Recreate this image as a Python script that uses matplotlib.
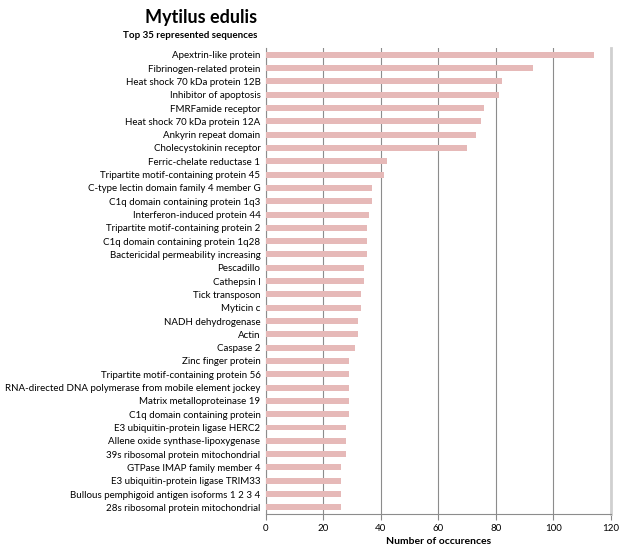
import matplotlib.pyplot as plt
import numpy as np

plt.rcParams['font.family'] = ['Lato', 'DejaVu Sans']

labels = [
    "Apextrin-like protein",
    "Fibrinogen-related protein",
    "Heat shock 70 kDa protein 12B",
    "Inhibitor of apoptosis",
    "FMRFamide receptor",
    "Heat shock 70 kDa protein 12A",
    "Ankyrin repeat domain",
    "Cholecystokinin receptor",
    "Ferric-chelate reductase 1",
    "Tripartite motif-containing protein 45",
    "C-type lectin domain family 4 member G",
    "C1q domain containing protein 1q3",
    "Interferon-induced protein 44",
    "Tripartite motif-containing protein 2",
    "C1q domain containing protein 1q28",
    "Bactericidal permeability increasing",
    "Pescadillo",
    "Cathepsin l",
    "Tick transposon",
    "Myticin c",
    "NADH dehydrogenase",
    "Actin",
    "Caspase 2",
    "Zinc finger protein",
    "Tripartite motif-containing protein 56",
    "RNA-directed DNA polymerase from mobile element jockey",
    "Matrix metalloproteinase 19",
    "C1q domain containing protein",
    "E3 ubiquitin-protein ligase HERC2",
    "Allene oxide synthase-lipoxygenase",
    "39s ribosomal protein mitochondrial",
    "GTPase IMAP family member 4",
    "E3 ubiquitin-protein ligase TRIM33",
    "Bullous pemphigoid antigen isoforms 1 2 3 4",
    "28s ribosomal protein mitochondrial",
]
counts = [114, 93, 82, 81, 76, 75, 73, 70, 42, 41, 37, 37, 36, 35, 35, 35,
          34, 34, 33, 33, 32, 32, 31, 29, 29, 29, 29, 29, 28, 28, 28, 26,
          26, 26, 26]

fig = plt.figure(figsize=(6.19, 5.52), dpi=100)
ax = fig.add_axes([0.4297, 0.0688, 0.557, 0.844])

y = np.arange(len(labels))
ax.barh(y, counts, height=0.45, color='#E6B9B8', zorder=3)
ax.set_ylim(len(labels) - 0.5, -0.5)
ax.set_yticks(y)
ax.set_yticklabels(labels, fontsize=7)
ax.set_xlim(0, 120)
ax.set_xticks(range(0, 121, 20))
ax.tick_params(axis='x', labelsize=7, length=4, color='#888888', pad=3)
ax.tick_params(axis='y', length=0, pad=4)
ax.grid(axis='x', color='#8c8c8c', linewidth=0.8, zorder=0)
ax.set_xlabel('Number of occurences', fontsize=7.5, fontweight='bold',
              labelpad=3)

ax.spines['top'].set_visible(False)
ax.spines['right'].set_color('#d0d0d0')
ax.spines['right'].set_linewidth(2)
ax.spines['left'].set_color('#8c8c8c')
ax.spines['bottom'].set_color('#8c8c8c')

fig.text(257 / 619, 1 - 18 / 552, 'Mytilus edulis', fontsize=13,
         fontweight='bold', ha='right', va='center')
fig.text(257 / 619, 1 - 36 / 552, 'Top 35 represented sequences', fontsize=7,
         fontweight='bold', ha='right', va='center')

fig.savefig('out.png', dpi=100)
